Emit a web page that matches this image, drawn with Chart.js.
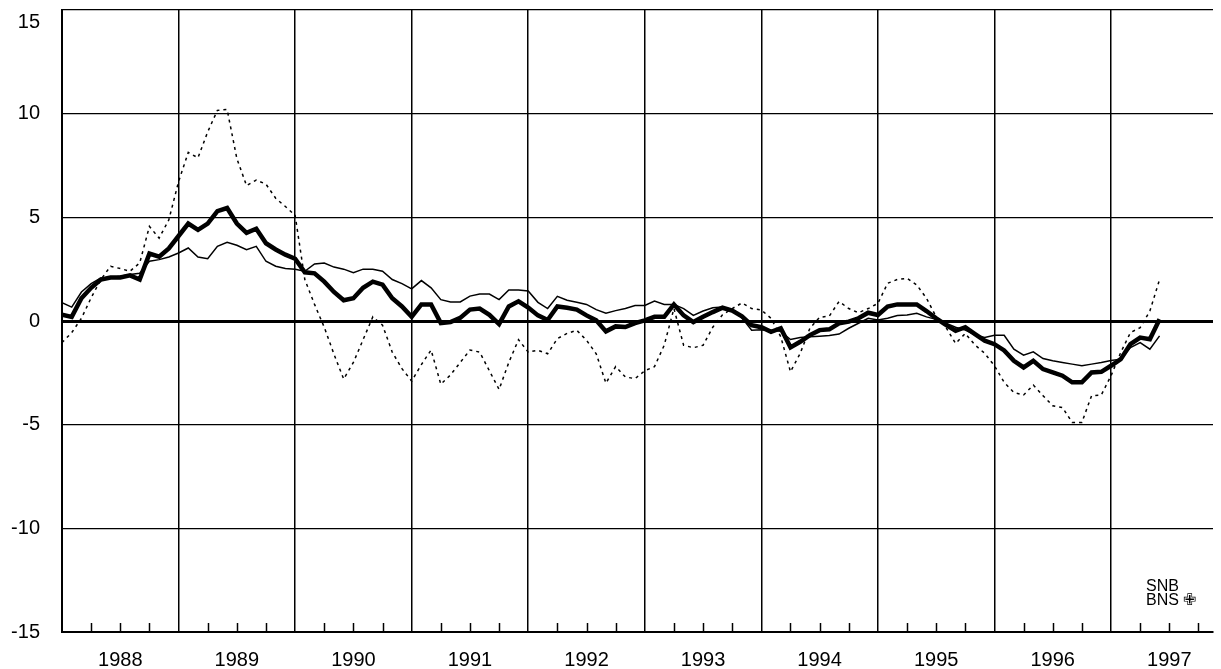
<!DOCTYPE html>
<html>
<head>
<meta charset="utf-8">
<script src="https://cdn.jsdelivr.net/npm/chart.js@4/dist/chart.umd.min.js"></script>
<style>
    html, body { margin: 0; padding: 0; background: #fff; }
</style>
</head>
<body>
<canvas id="chart" width="1221" height="669"></canvas>
<script>
// year labels, one per 12 monthly points starting Jan 1988
var years = ["1988", "1989", "1990", "1991", "1992", "1993", "1994", "1995", "1996", "1997"];
var yTicks = [-15, -10, -5, 0, 5, 10, 15];

// monthly values, Jan 1988 .. Jun 1997
var thickLine = [
    0.3, 0.2, 1.1, 1.6, 2.0, 2.1, 2.1, 2.2, 2.0, 3.25, 3.1, 3.5,
    4.1, 4.7, 4.4, 4.7, 5.3, 5.45, 4.7, 4.25, 4.45, 3.75, 3.45, 3.2,
    3.0, 2.35, 2.3, 1.9, 1.4, 1.0, 1.1, 1.6, 1.9, 1.75, 1.1, 0.7,
    0.2, 0.8, 0.8, -0.1, -0.05, 0.15, 0.55, 0.6, 0.3, -0.15, 0.7, 0.95,
    0.65, 0.27, 0.05, 0.7, 0.64, 0.55, 0.27, 0.03, -0.5, -0.26, -0.29, -0.1,
    0.03, 0.2, 0.2, 0.8, 0.27, -0.05, 0.2, 0.43, 0.64, 0.5, 0.22, -0.2,
    -0.3, -0.52, -0.35, -1.27, -1.0, -0.68, -0.44, -0.4, -0.11, -0.03, 0.13, 0.4,
    0.29, 0.7, 0.8, 0.8, 0.8, 0.48, 0.13, -0.19, -0.47, -0.3, -0.63, -0.95,
    -1.12, -1.42, -1.92, -2.24, -1.92, -2.32, -2.48, -2.64, -2.96, -2.96, -2.48, -2.45,
    -2.16, -1.84, -1.12, -0.8, -0.88, 0.08
];
var thinLine = [
    0.88, 0.67, 1.4, 1.8, 2.08, 2.1, 2.16, 2.24, 2.3, 2.88, 2.96, 3.09,
    3.28, 3.52, 3.09, 3.0, 3.6, 3.8, 3.65, 3.44, 3.6, 2.88, 2.64, 2.53,
    2.5, 2.4, 2.75, 2.8, 2.6, 2.5, 2.33, 2.5, 2.5, 2.4, 2.0, 1.8,
    1.55, 1.95, 1.6, 1.03, 0.92, 0.92, 1.2, 1.3, 1.3, 1.03, 1.5, 1.5,
    1.45, 0.9, 0.6, 1.19, 1.0, 0.9, 0.8, 0.55, 0.38, 0.5, 0.6, 0.75,
    0.75, 0.96, 0.8, 0.8, 0.6, 0.27, 0.48, 0.64, 0.67, 0.5, 0.16, -0.45,
    -0.42, -0.45, -0.5, -0.89, -0.8, -0.76, -0.73, -0.7, -0.63, -0.35, -0.11, 0.13,
    0.05, 0.13, 0.26, 0.29, 0.37, 0.2, 0.08, -0.11, -0.3, -0.44, -0.68, -0.8,
    -0.69, -0.69, -1.36, -1.65, -1.49, -1.81, -1.92, -2.0, -2.08, -2.16, -2.08, -2.0,
    -1.9, -1.84, -1.28, -1.04, -1.36, -0.72
];
var dottedLine = [
    -1.04, -0.56, 0.13, 1.12, 2.0, 2.64, 2.53, 2.4, 2.8, 4.56, 4.0, 4.88,
    6.72, 8.13, 7.87, 9.12, 10.16, 10.2, 7.84, 6.53, 6.8, 6.6, 5.92, 5.52,
    5.1, 2.0, 0.8, -0.3, -1.6, -2.8, -2.0, -0.9, 0.2, -0.2, -1.5, -2.3,
    -2.9, -2.1, -1.4, -3.05, -2.6, -2.0, -1.4, -1.5, -2.4, -3.3, -2.0, -0.9,
    -1.5, -1.41, -1.58, -0.85, -0.6, -0.45, -0.93, -1.58, -3.0, -2.2, -2.7, -2.78,
    -2.4, -2.2, -1.17, 0.6, -1.17, -1.29, -1.17, -0.3, 0.3, 0.6, 0.87, 0.6,
    0.53, 0.13, -0.76, -2.45, -1.56, -0.35, 0.18, 0.24, 0.94, 0.6, 0.4, 0.6,
    0.85, 1.82, 2.0, 2.06, 1.74, 1.1, 0.2, -0.3, -1.08, -0.6, -1.16, -1.56,
    -2.16, -2.96, -3.45, -3.57, -3.09, -3.6, -4.09, -4.17, -4.89, -4.89, -3.6, -3.57,
    -2.64, -1.52, -0.56, -0.32, 0.48, 2.0
];

function toPoints(arr) {
    return arr.map(function (v, i) { return { x: i, y: v }; });
}

var FONT = '"Liberation Sans", Arial, sans-serif';

// quarter tick marks along the bottom axis + SNB/BNS mark
var decor = {
    id: 'decor',
    afterDraw: function (chart) {
        var ctx = chart.ctx, xs = chart.scales.x, a = chart.chartArea;
        ctx.save();
        ctx.strokeStyle = '#000';
        ctx.lineWidth = 1.5;
        for (var m = 3; m < years.length * 12; m += 3) {
            if (m % 12 === 0) continue;
            var px = Math.round(xs.getPixelForValue(m)) + 0.5;
            ctx.beginPath();
            ctx.moveTo(px, a.bottom);
            ctx.lineTo(px, a.bottom - 9);
            ctx.stroke();
        }
        ctx.fillStyle = '#000';
        ctx.font = '16px "Liberation Sans Narrow", ' + FONT;
        ctx.fillText('SNB', 1146, 591);
        ctx.fillText('BNS \u2719', 1146, 605);
        ctx.restore();
    }
};

var data = {
    datasets: [{
        label: 'dotted',
        data: toPoints(dottedLine),
        borderColor: '#000',
        borderWidth: 1.5,
        borderDash: [3, 4],
        pointRadius: 0,
        tension: 0
    }, {
        label: 'thin',
        data: toPoints(thinLine),
        borderColor: '#000',
        borderWidth: 1.5,
        pointRadius: 0,
        tension: 0
    }, {
        label: 'thick',
        data: toPoints(thickLine),
        borderColor: '#000',
        borderWidth: 4.5,
        pointRadius: 0,
        tension: 0
    }]
};

var options = {
    responsive: false,
    animation: false,
    devicePixelRatio: 1,
    layout: { padding: { top: 10, right: 8, left: 0, bottom: 0 } },
    plugins: { legend: { display: false }, tooltip: { enabled: false } },
    scales: {
        x: {
            type: 'linear',
            min: 0,
            max: 118.5,
            afterFit: function (s) {
                s.height = 37;
                s.paddingLeft = 0;
                s.paddingRight = 0;
            },
            border: { display: true, color: '#000', width: 2 },
            grid: {
                drawTicks: false,
                color: function (c) { return c.tick && c.tick.value % 12 === 0 ? '#000' : 'rgba(0,0,0,0)'; },
                lineWidth: 1.5
            },
            ticks: {
                stepSize: 3,
                autoSkip: false,
                maxRotation: 0,
                padding: 16,
                color: '#000',
                font: { family: FONT, size: 20 },
                callback: function (v) { return v % 12 === 6 ? years[(v - 6) / 12] : ''; }
            }
        },
        y: {
            min: -15,
            max: 15,
            afterFit: function (s) {
                s.width = 62;
                s.paddingTop = 0;
                s.paddingBottom = 0;
            },
            border: { display: true, color: '#000', width: 2 },
            grid: {
                drawTicks: false,
                color: '#000',
                lineWidth: function (c) { return c.tick && c.tick.value === 0 ? 3 : 1.2; }
            },
            afterBuildTicks: function (s) { s.ticks = yTicks.map(function (v) { return { value: v }; }); },
            ticks: {
                padding: 22,
                color: '#000',
                font: { family: FONT, size: 20 },
                // top label sits a little below its line, as in the print
                callback: function (v) { return v === 15 ? ['', '15'] : String(v); }
            }
        }
    }
};

new Chart('chart', {
    type: 'line',
    data: data,
    options: options,
    plugins: [decor]
});
</script>
</body>
</html>
